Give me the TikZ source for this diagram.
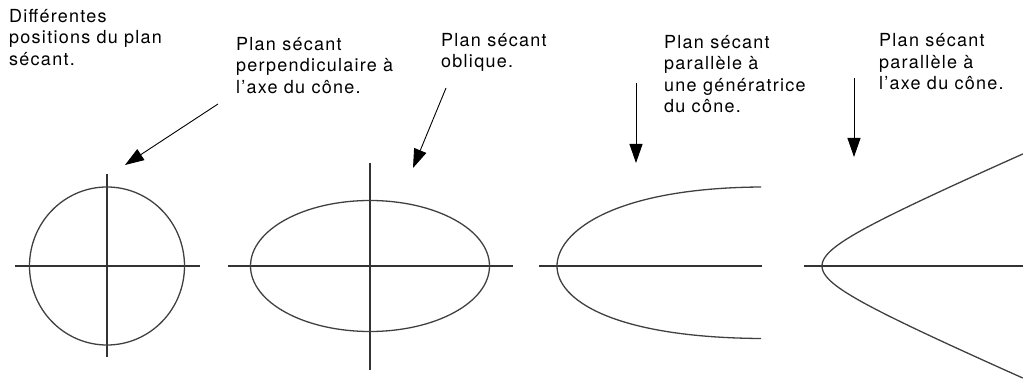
\documentclass[tikz,border=0pt]{standalone}
\usepackage{fontspec}
\setmainfont{TeX Gyre Heros}[LetterSpace=7]
\usetikzlibrary{arrows.meta}
\tikzset{
  lbl/.style={anchor=north west, inner sep=0pt, align=left, font=\fontsize{18}{21.5}\selectfont},
  pointer/.style={draw=black, line width=0.9pt, -{Triangle[length=19pt,width=13pt]}},
  axisline/.style={draw=black!80, line width=1.1pt},
  conic/.style={draw=black!75, line width=1.3pt},
}
\begin{document}
\begin{tikzpicture}[x=1pt,y=-1pt]
\useasboundingbox (0,0) rectangle (1023,382);
% labels
\node[lbl] (t1) at (9,9) {Différentes\\positions du plan\\sécant.};
\node[lbl] (t2) at (236,37) {Plan sécant\\perpendiculaire à\\l’axe du cône.};
\node[lbl] (t3) at (441,33) {Plan sécant\\oblique.};
\node[lbl] (t4) at (664,35) {Plan sécant\\parallèle à\\une génératrice\\du cône.};
\node[lbl] (t5) at (879,33.5) {Plan sécant\\parallèle à\\l’axe du cône.};
% arrows
\coordinate (a1s) at (218,104); \coordinate (a1e) at (125,165);
\coordinate (a2s) at (446,88);  \coordinate (a2e) at (413,168);
\coordinate (a3s) at (636,83);  \coordinate (a3e) at (636,163);
\coordinate (a4s) at (854,78);  \coordinate (a4e) at (854,157);
\draw[pointer] (a1s) -- (a1e);
\draw[pointer] (a2s) -- (a2e);
\draw[pointer] (a3s) -- (a3e);
\draw[pointer] (a4s) -- (a4e);
% circle
\coordinate (c1) at (107,266);
\draw[axisline] (15,266) -- (200,266);
\draw[axisline] (107,174) -- (107,357);
\draw[conic] (c1) ellipse [x radius=77.5, y radius=79];
% ellipse
\coordinate (c2) at (370,266);
\draw[axisline] (228,266) -- (513,266);
\draw[axisline] (370,163) -- (370,370);
\draw[conic] (c2) ellipse [x radius=119.5, y radius=65.5];
% parabola
\draw[axisline] (539,266) -- (762,266);
\draw[conic] (761,187) .. controls (611,188) and (557,233) .. (557,266)
  .. controls (557,299) and (611,337.5) .. (761,338.5);
% hyperbola
\draw[axisline] (804,266) -- (1023,266);
\draw[conic] plot[domain=-2.075:2.075, samples=80, smooth] ({756+66*cosh(\x)}, {266+28.6*sinh(\x)});
\end{tikzpicture}
\end{document}
